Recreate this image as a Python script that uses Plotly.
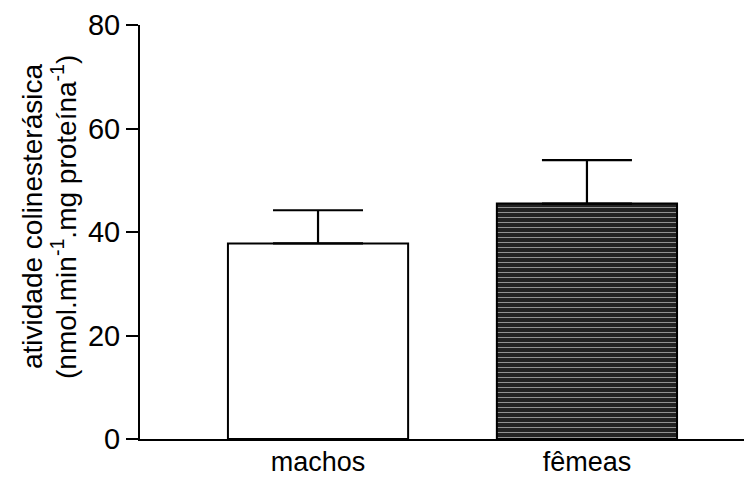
import plotly.graph_objects as go

categories = ["machos", "fêmeas"]
means = [37.8, 45.5]
sem = [6.4, 8.4]
bar_colors = ["white", "#222222"]
y_ticks = [0, 20, 40, 60, 80]
title_line1 = "atividade colinesterásica"
title_line2 = "(nmol.min<sup>-1</sup>.mg proteína<sup>-1</sup>)"

FONT = "Liberation Sans, Arial, sans-serif"

fig = go.Figure()
fig.add_trace(go.Bar(
    x=categories,
    y=means,
    width=0.67,
    marker=dict(
        color=bar_colors,
        line=dict(color="black", width=2),
        pattern=dict(shape=["", "-"], fgcolor="#7a7a7a", bgcolor="#181818",
                     size=5, solidity=0.2),
    ),
    error_y=dict(type="data", symmetric=False, array=sem, arrayminus=[0, 0],
                 color="black", thickness=2.2, width=45),
))

# page body has an 8px default margin, so the figure is 8px smaller and offset
fig.update_layout(
    width=748, height=471,
    margin=dict(l=132, r=12, t=17, b=40),
    paper_bgcolor="white", plot_bgcolor="white",
    showlegend=False,
    font=dict(family=FONT, color="black"),
)
fig.update_xaxes(
    range=[-0.662, 1.584], automargin=False,
    showline=True, linecolor="black", linewidth=2,
    ticks="", showgrid=False, zeroline=False,
    ticklabeloverflow="allow", ticklabelstandoff=-2,
    tickfont=dict(size=27, family=FONT, color="black"),
)
fig.update_yaxes(
    range=[0, 80], tickvals=y_ticks, automargin=False,
    showline=True, linecolor="black", linewidth=2,
    ticks="outside", ticklen=12, tickwidth=2, tickcolor="black",
    showgrid=False, zeroline=False,
    ticklabeloverflow="allow",
    tickfont=dict(size=29, family=FONT, color="black"),
)
for txt, xs in [(title_line1, -108), (title_line2, -76)]:
    fig.add_annotation(
        text=txt, xref="paper", yref="paper", x=0, y=0.5,
        xanchor="center", yanchor="middle", xshift=xs, yshift=15,
        textangle=-90, showarrow=False,
        font=dict(size=28, family=FONT, color="black"),
    )

fig.write_html("out.html")
